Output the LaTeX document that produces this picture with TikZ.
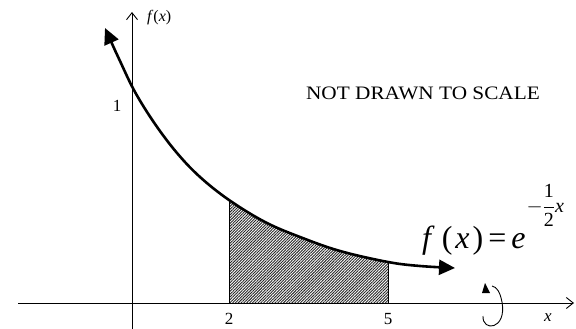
\documentclass[tikz,border=0pt]{standalone}
\usepackage{fontspec}
\setmainfont{Liberation Serif}
\usetikzlibrary{arrows.meta,patterns.meta}
\begin{document}
\begin{tikzpicture}[x=1pt,y=-1pt,
  axis/.style={line width=0.9pt,-{Straight Barb[length=7pt,width=11pt,line width=0.9pt]}},
  curve/.style={line width=2.6pt,{Triangle[length=16pt,width=15pt]}-{Triangle[length=16pt,width=15pt]}},
  lbl/.style={inner sep=0pt,font=\fontsize{17}{17}\selectfont},
  hatch/.style={pattern={Lines[angle=45,distance=2pt,line width=0.9pt]},pattern color=black!85}]
\useasboundingbox[fill=white] (0,0) rectangle (576,329);
\def\crv{(105,28) (120,61) (135,92) (155,124) (177,153) (200,177) (229,200) (265,222) (300,237) (340,251) (388,262) (420,266) (455,268)}
% shaded area
\begin{scope}
  \clip (229,0) rectangle (388,303);
  \fill[hatch] plot[smooth,tension=0.6] coordinates {\crv} -- (455,303) -- (105,303) -- cycle;
\end{scope}
\coordinate (xa) at (229,303);
\coordinate (xb) at (388,303);
\coordinate (ya) at (229,200);
\coordinate (yb) at (388,262);
\draw[line width=0.6pt] (xa) -- (ya);
\draw[line width=0.6pt] (xb) -- (yb);
% axes
\coordinate (xl) at (18,303);
\coordinate (xr) at (574,303);
\coordinate (yd) at (132,329);
\coordinate (yu) at (132,12);
\draw[axis] (xl) -- (xr);
\draw[axis] (yd) -- (yu);
% curve
\draw[curve] plot[smooth,tension=0.6] coordinates {\crv};
% labels
\node[inner sep=0pt,anchor=west,font=\fontsize{16}{16}\selectfont] (fl) at (147,18) {\textit{f}(\textit{x})};
\node[lbl] (one) at (117,106) {1};
\node[lbl] (two) at (229,319) {2};
\node[lbl] (five) at (388,319) {5};
\node[lbl] (xl2) at (548,318) {\textit{x}};
\node[inner sep=0pt,font=\fontsize{19}{19}\selectfont] (nd) at (423,93) {\scalebox{1.12}[1]{NOT DRAWN TO SCALE}};
\node[inner sep=0pt,anchor=base west,font=\fontsize{32}{32}\selectfont] (fx) at (422,248)
  {\textit{f}\kern7pt(\kern3pt\textit{x}\kern3pt)\kern5pt=\kern5pt\textit{e}\kern1pt\raisebox{36pt}{\fontsize{20}{20}\selectfont$\displaystyle-\frac{\textrm{1}}{\textrm{2}}\textit{x}$}};
% scan mark
\coordinate (c1) at (483,316);
\coordinate (c2) at (492,286);
\draw[line width=0.9pt] (c1) .. controls (482,332) and (507,330) .. (502,302) .. controls (500,292) and (497,287) .. (c2);
\fill (485,283) -- (490,293) -- (482,293) -- cycle;
\end{tikzpicture}
\end{document}
